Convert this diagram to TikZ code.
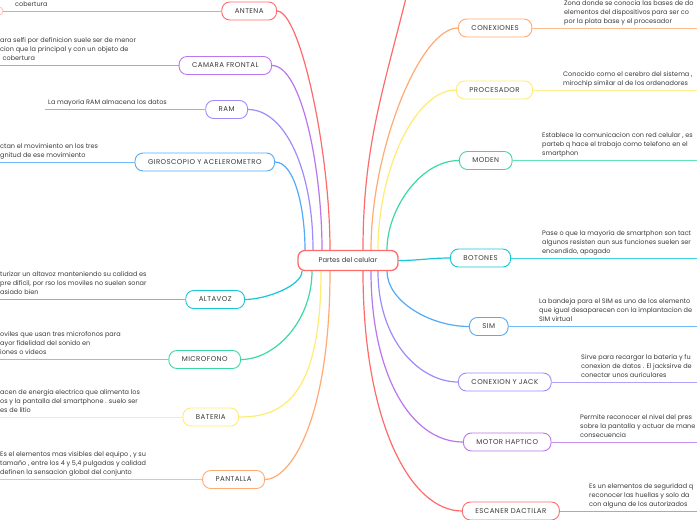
\documentclass[tikz,border=0pt]{standalone}
\usepackage{fontspec}
\setmainfont{Poppins}
\newfontfamily\capsfont[LetterSpace=6]{Poppins}
\usetikzlibrary{calc}
\definecolor{coral}{HTML}{FF6B6B}
\definecolor{peach}{HTML}{FFAB73}
\definecolor{lemon}{HTML}{FFEC73}
\definecolor{mint}{HTML}{3DD9A3}
\definecolor{aqua}{HTML}{14C8D8}
\definecolor{sky}{HTML}{52AAF8}
\definecolor{lavender}{HTML}{9D8CFC}
\definecolor{orchid}{HTML}{BA76EE}
\definecolor{ink}{HTML}{3A3A3A}

\begin{document}
\begin{tikzpicture}[
  x=1pt, y=1pt,
  root/.style={
    rectangle,
    rounded corners=7pt,
    draw=coral,
    line width=1.3pt,
    fill=white,
    minimum width=100pt,
    minimum height=20pt,
    text=ink,
    font=\fontsize{6.8}{8}\selectfont
  },
  part/.style={
    rectangle,
    rounded corners=8pt,
    draw=#1,
    line width=0.9pt,
    fill=white,
    minimum height=18pt,
    inner xsep=13pt,
    inner ysep=0pt,
    text=ink,
    font=\capsfont\fontsize{7}{8}\selectfont
  },
  note/.style={
    anchor=south west,
    align=left,
    inner xsep=3pt,
    inner ysep=3pt,
    text depth=1.5pt,
    text=ink,
    font=\fontsize{6.5}{9}\selectfont
  },
  branch/.style={draw=#1, line width=1.2pt},
  leaf/.style={draw=#1, line width=0.8pt}
]
\useasboundingbox (0,0) rectangle (697,-520);
\clip (0,0) rectangle (697,-520);
\fill[white] (0,0) rectangle (697,-520);

% Center
\node[root] (cell) at (348,-260.5) {Partes del celular};

% Left parts
\node[part=coral, anchor=east] (antena) at (277,-11) {ANTENA};
\node[part=orchid, anchor=east] (camara) at (272,-65.5) {CAMARA FRONTAL};
\node[part=lavender, anchor=east] (ram) at (248,-109.5) {RAM};
\node[part=sky, anchor=east] (giro) at (275,-162) {GIROSCOPIO Y ACELEROMETRO};
\node[part=aqua, anchor=east] (altavoz) at (245,-299.5) {ALTAVOZ};
\node[part=mint, anchor=east] (micro) at (241,-359.5) {MICROFONO};
\node[part=lemon, anchor=east] (bateria) at (239,-417) {BATERIA};
\node[part=peach, anchor=east] (pantalla) at (265,-479.5) {PANTALLA};

% Right parts
\node[part=peach, anchor=west] (conex) at (458,-28) {CONEXIONES};
\node[part=lemon, anchor=west] (proc) at (456,-90) {PROCESADOR};
\node[part=mint, anchor=west] (moden) at (459,-160.5) {MODEN};
\node[part=aqua, anchor=west] (botones) at (450,-258) {BOTONES};
\node[part=sky, anchor=west] (sim) at (469,-326.5) {SIM};
\node[part=lavender, anchor=west] (jack) at (458,-382) {CONEXION Y JACK};
\node[part=orchid, anchor=west] (motor) at (463,-442) {MOTOR HAPTICO};
\node[part=coral, anchor=west] (escaner) at (462,-511) {ESCANER DACTILAR};

% Left notes
\node[note] (antena-txt) at (12,-11) {cobertura};
\node[circle, draw=coral!45, line width=0.8pt, fill=white, minimum size=8pt, inner sep=0pt] (antena-dot) at (-1,-11) {};
\node[note] (camara-txt) at (-3,-65.5) {ara selfi por definicion suele ser de menor\\cion que la principal y con un objeto de\\\hspace{2.5pt}cobertura};
\node[note] (ram-txt) at (45,-109.5) {La mayoria RAM almacena los datos};
\node[note] (giro-txt) at (-3,-162) {ctan el movimiento en los tres\\gnitud de ese movimiento};
\node[note] (altavoz-txt) at (-3,-299.5) {turizar un altavoz manteniendo su calidad es\\pre  dificil, por rso los moviles no suelen sonar\\asiado bien};
\node[note] (micro-txt) at (-3,-359.5) {oviles que usan tres microfonos  para\\ayor fidelidad del sonido en\\iones o videos};
\node[note] (bateria-txt) at (-3,-417) {acen de energia electrica que alimenta los\\os y la pantalla del smartphone . suelo ser\\es de litio};
\node[note] (pantalla-txt) at (-3,-479.5) {Es el elementos mas visibles del equipo , y su\\tamaño , entre los 4 y 5,4 pulgadas y calidad\\definen la sensacion global del conjunto};

% Right notes
\node[note] (conex-txt) at (561,-28) {Zona donde se conocia las bases de do\\elementos del dispositivos para ser co\\por la plata base y el procesador};
\node[note] (proc-txt) at (560,-90) {Conocido como el cerebro del sistema ,\\mirochip similar al de los ordenadores};
\node[note] (moden-txt) at (539,-160.5) {Establece la comunicacion con red celular , es\\parteb q hace el trabajo como telefono en el\\smartphon};
\node[note] (botones-txt) at (539,-258) {Pase o que la mayoria de smartphon son tact\\algunos resisten aun sus funciones suelen ser\\encendido, apagado};
\node[note] (sim-txt) at (536,-326.5) {La bandeja para el SIM es uno de los elemento\\que igual desaparecen con la implantacion de\\SIM virtual};
\node[note] (jack-txt) at (578,-382) {Sirve para recargar la bateria y fu\\conexion de datos . El jacksirve de\\conectar unos auriculares};
\node[note] (motor-txt) at (577,-442) {Permite reconocer el nivel del pres\\sobre la pantalla y actuar de mane\\consecuencia};
\node[note] (escaner-txt) at (586,-511) {Es un elementos de seguridad q\\reconocer las huellas y solo da\\con alguna de los autorizados};

\coordinate (edge-r) at (700,0);
\coordinate (offtop) at (407,6);

% Branches from the center, upper half
\draw[branch=coral] ([xshift=-18pt]cell.north) to[out=90,in=0,out distance=100pt,in distance=23pt] (antena.east);
\draw[branch=orchid] ([xshift=-26pt]cell.north) to[out=90,in=0,out distance=80pt,in distance=30pt] (camara.east);
\draw[branch=lavender] ([xshift=-35pt]cell.north) to[out=90,in=0,out distance=80pt,in distance=37pt] (ram.east);
\draw[branch=sky] ([xshift=-43pt]cell.north) to[out=90,in=0,out distance=40pt,in distance=20pt] (giro.east);
\draw[branch=coral] ([xshift=15pt]cell.north) to[out=90,in=256] (offtop);
\draw[branch=peach] ([xshift=23pt]cell.north) to[out=90,in=180,out distance=100pt,in distance=38pt] (conex.west);
\draw[branch=lemon] ([xshift=30pt]cell.north) to[out=90,in=180,out distance=80pt,in distance=41pt] (proc.west);
\draw[branch=mint] ([xshift=39pt]cell.north) to[out=90,in=180,out distance=40pt,in distance=39pt] (moden.west);
\draw[branch=aqua] (cell.east) to[out=0,in=180] (botones.west);

% Branches from the center, lower half
\draw[branch=aqua] ([xshift=-46pt]cell.south) to[out=-90,in=0,out distance=15pt,in distance=20pt] (altavoz.east);
\draw[branch=mint] ([xshift=-36pt]cell.south) to[out=-90,in=0,out distance=50pt,in distance=34pt] (micro.east);
\draw[branch=lemon] ([xshift=-27pt]cell.south) to[out=-90,in=0,out distance=130pt,in distance=41pt] (bateria.east);
\draw[branch=peach] ([xshift=-18pt]cell.south) to[out=-90,in=0,out distance=150pt,in distance=25pt] (pantalla.east);
\draw[branch=coral] ([xshift=15pt]cell.south) to[out=-90,in=180,out distance=150pt,in distance=52pt] (escaner.west);
\draw[branch=orchid] ([xshift=23pt]cell.south) to[out=-90,in=180,out distance=100pt,in distance=54pt] (motor.west);
\draw[branch=lavender] ([xshift=30pt]cell.south) to[out=-90,in=180,out distance=70pt,in distance=38pt] (jack.west);
\draw[branch=sky] ([xshift=39pt]cell.south) to[out=-90,in=180,out distance=30pt,in distance=39pt] (sim.west);

% Leaves
\draw[leaf=coral!70] (antena.west) -- (antena-dot.east);
\draw[leaf=orchid!80] (camara.west) -- (camara-txt.south west);
\draw[leaf=lavender!80] (ram.west) -- (ram-txt.south west);
\draw[leaf=sky!80] (giro.west) -- (giro-txt.south west);
\draw[leaf=aqua!80] (altavoz.west) -- (altavoz-txt.south west);
\draw[leaf=mint!80] (micro.west) -- (micro-txt.south west);
\draw[leaf=lemon!80] (bateria.west) -- (bateria-txt.south west);
\draw[leaf=peach!80] (pantalla.west) -- (pantalla-txt.south west);
\draw[leaf=peach!80] (conex.east) -- (conex.east -| edge-r);
\draw[leaf=lemon!80] (proc.east) -- (proc.east -| edge-r);
\draw[leaf=mint!80] (moden.east) -- (moden.east -| edge-r);
\draw[leaf=aqua!80] (botones.east) -- (botones.east -| edge-r);
\draw[leaf=sky!80] (sim.east) -- (sim.east -| edge-r);
\draw[leaf=lavender!80] (jack.east) -- (jack.east -| edge-r);
\draw[leaf=orchid!80] (motor.east) -- (motor.east -| edge-r);
\draw[leaf=coral!80] (escaner.east) -- (escaner.east -| edge-r);

\end{tikzpicture}
\end{document}
